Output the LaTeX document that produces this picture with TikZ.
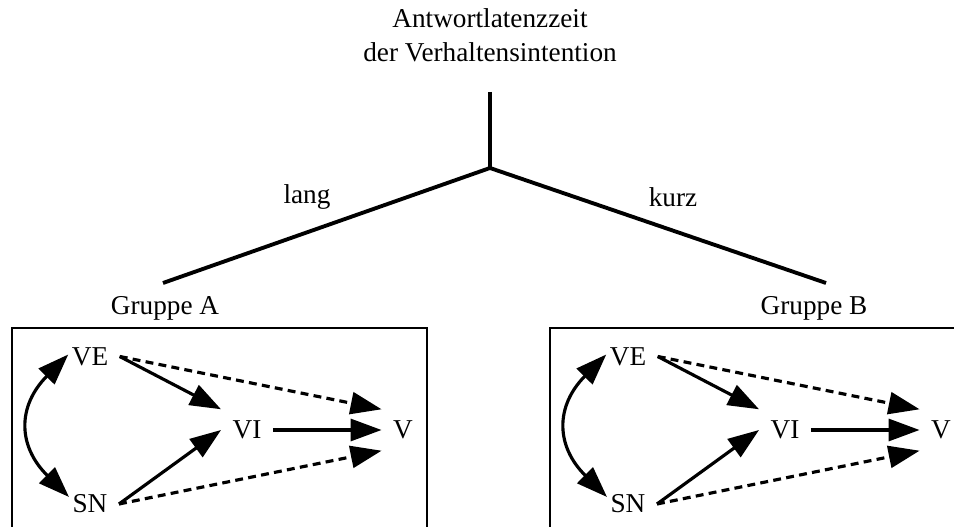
\documentclass[tikz,border=0pt]{standalone}
\usepackage{fontspec}
\setmainfont{Liberation Serif}
\usetikzlibrary{arrows.meta}
\begin{document}
\begin{tikzpicture}[>={Triangle[length=0.62cm,width=0.44cm]}, line width=1.8pt,
  every node/.style={font=\fontsize{15.5pt}{19.4pt}\selectfont},
  var/.style={inner sep=0.2cm},
  gestr/.style={dash pattern=on 4.5pt off 3pt}]
\clip (0,0) rectangle (19.08,10.54);
\node(titel) at (9.8,9.84) [align=center] {Antwortlatenzzeit\\der Verhaltensintention};
\coordinate(oben) at (9.8,8.7);
\coordinate(gabel) at (9.8,7.18);
\coordinate(links) at (3.26,4.88);
\coordinate(rechts) at (16.52,4.88);
\draw[line width=2.2pt](oben) -- (gabel);
\draw[line width=2.2pt](gabel) -- (links);
\draw[line width=2.2pt](gabel) -- (rechts);
\node(lang) at (6.14,6.6) {lang};
\node(kurz) at (13.46,6.6) {kurz};
%
\node(gruppeA) at (3.3,4.38) {Gruppe A};
\node(gruppeB) at (16.28,4.38) {Gruppe B};
\draw[line width=1.1pt] (0.24,-0.5) rectangle (8.54,3.98);
\draw[line width=1.1pt] (11.0,-0.5) rectangle (19.3,3.98);
%
\node[var](veA) at (1.8,3.41) {VE};
\node[var](viA) at (4.94,1.94) {VI};
\node[var](vA) at (8.06,1.94) {V};
\node[var](snA) at (1.8,0.46) {SN};
\draw[<->]([xshift=0.16cm,yshift=0.04cm]veA.west) to[bend right=45, looseness=1.3] ([xshift=0.16cm,yshift=0.14cm]snA.west);
\draw[->](veA.east) -- (viA.north west);
\draw[->](snA.east) -- (viA.west);
\draw[->](viA.east) -- (vA.west);
\draw[->, gestr](veA.east) -- (vA.north west);
\draw[->, gestr](snA.east) -- (vA.south west);
%
\node[var](veB) at (12.56,3.41) {VE};
\node[var](viB) at (15.7,1.94) {VI};
\node[var](vB) at (18.82,1.94) {V};
\node[var](snB) at (12.56,0.46) {SN};
\draw[<->]([xshift=0.16cm,yshift=0.04cm]veB.west) to[bend right=45, looseness=1.3] ([xshift=0.16cm,yshift=0.14cm]snB.west);
\draw[->](veB.east) -- (viB.north west);
\draw[->](snB.east) -- (viB.west);
\draw[->](viB.east) -- (vB.west);
\draw[->, gestr](veB.east) -- (vB.north west);
\draw[->, gestr](snB.east) -- (vB.south west);
\end{tikzpicture}
\end{document}
